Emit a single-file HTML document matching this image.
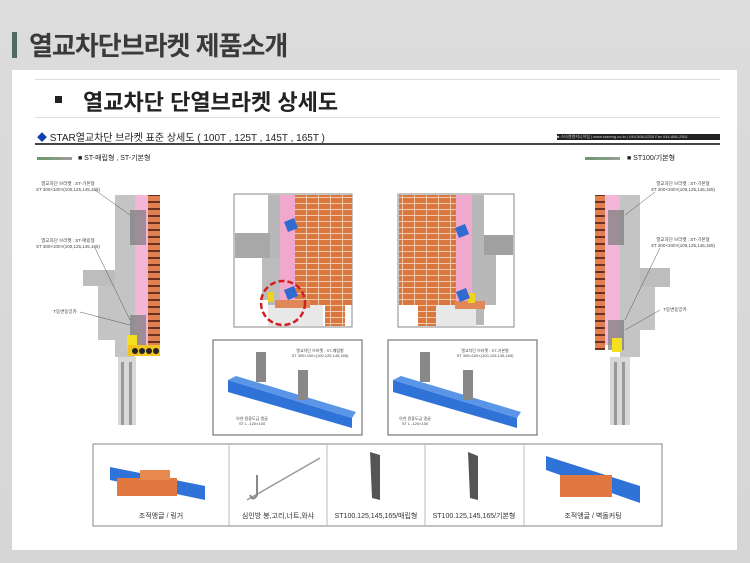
<!DOCTYPE html>
<html><head><meta charset="utf-8"><style>
html,body{margin:0;padding:0}
body{width:750px;height:563px;position:relative;overflow:hidden;background:linear-gradient(#dcdcdc,#d6d6d6);font-family:"Liberation Sans","Noto Sans CJK KR",sans-serif}
.abs{position:absolute}
</style></head><body>
<div class="abs" style="left:12px;top:32px;width:5px;height:26px;background:#4f6b63"></div>
<div class="abs" style="left:29px;top:26px;font-size:26px;font-weight:bold;color:#3a3a3a;letter-spacing:-1px;white-space:nowrap">열교차단브라켓 제품소개</div>
<div class="abs" style="left:12px;top:70px;width:725px;height:480px;background:#fff"></div>
<div class="abs" style="left:35px;top:79px;width:685px;height:1px;background:#ddd"></div>
<div class="abs" style="left:35px;top:117px;width:685px;height:1px;background:#ddd"></div>
<div class="abs" style="left:55px;top:96px;width:7px;height:7px;background:#222"></div>
<div class="abs" style="left:83px;top:85px;font-size:22px;font-weight:bold;color:#222;white-space:nowrap">열교차단 단열브라켓 상세도</div>
<div class="abs" style="left:37px;top:129px;font-size:10px;color:#222;white-space:nowrap"><span style="color:#1040b0">◆</span> STAR열교차단 브라켓 표준 상세도 ( 100T , 125T , 145T , 165T )</div>
<div class="abs" style="left:35px;top:143px;width:685px;height:2px;background:#444"></div>
<div class="abs" style="left:557px;top:134px;width:163px;height:6px;background:#222;color:#ccc;font-size:4px;line-height:6px;white-space:nowrap;overflow:hidden">■ 스타앤엔지니어링 | www.stareng.co.kr | 044-566-0205 Fax 044-866-2551</div>
<div class="abs" style="left:37px;top:157px;width:35px;height:3px;background:linear-gradient(90deg,#6a9a6a,#9c9c9c)"></div>
<div class="abs" style="left:78px;top:153px;font-size:7px;color:#222;white-space:nowrap">■ ST-매립형 , ST-기본형</div>
<div class="abs" style="left:585px;top:157px;width:35px;height:3px;background:linear-gradient(90deg,#6a9a6a,#9c9c9c)"></div>
<div class="abs" style="left:627px;top:153px;font-size:7px;color:#222;white-space:nowrap">■ ST100/기본형</div>

<svg class="abs" style="left:0;top:0" width="750" height="563" font-family="Liberation Sans, Noto Sans CJK KR, sans-serif">
<defs>
<pattern id="br" width="12" height="6" patternUnits="userSpaceOnUse"><rect width="12" height="6" fill="#d9773f"/><rect y="5" width="12" height="1" fill="#f0c8a8"/><rect x="6" width="1" height="6" fill="#f0c8a8"/></pattern>
<pattern id="bv" width="12" height="7" patternUnits="userSpaceOnUse"><rect width="12" height="7" fill="#e08050"/><rect y="5" width="12" height="2" fill="#6a3020"/></pattern>
</defs>
<g>
<rect x="115" y="195" width="20" height="162" fill="#c4c4c4"/>
<rect x="83" y="270" width="32" height="16" fill="#bdbdbd"/>
<rect x="98" y="286" width="17" height="54" fill="#c4c4c4"/>
<rect x="135" y="195" width="13" height="150" fill="#f2b6d6"/>
<rect x="148" y="195" width="12" height="153" fill="url(#bv)"/>
<rect x="130" y="210" width="16" height="35" fill="#7a7a7a" opacity=".7"/>
<rect x="130" y="315" width="16" height="35" fill="#7a7a7a" opacity=".7"/>
<rect x="127" y="335" width="10" height="15" fill="#f5e020"/>
<rect x="128" y="345" width="32" height="11" fill="#f2c420"/>
<circle cx="135" cy="351" r="3" fill="#222"/><circle cx="142" cy="351" r="3" fill="#222"/><circle cx="149" cy="351" r="3" fill="#222"/><circle cx="156" cy="351" r="3" fill="#222"/>
<rect x="118" y="357" width="18" height="68" fill="#d8d8d8"/>
<rect x="121" y="362" width="3" height="63" fill="#999"/><rect x="129" y="362" width="3" height="63" fill="#999"/>
<g font-size="4.5" fill="#444" text-anchor="middle"><text x="68" y="185">열교차단 브라켓 : ST-기본형</text><text x="68" y="191">ST 300×100×(100,125,145,165)</text>
<text x="68" y="242">열교차단 브라켓 : ST-매립형</text><text x="68" y="248">ST 300×100×(100,125,145,165)</text>
<text x="65" y="313">T동변동앙카</text></g>
<g stroke="#555" stroke-width=".5" fill="none"><path d="M95 190 L130 215"/><path d="M95 248 L130 320"/><path d="M80 312 L130 325"/></g>
</g>
<g>
<rect x="620" y="195" width="20" height="162" fill="#c4c4c4"/>
<rect x="640" y="268" width="30" height="19" fill="#bdbdbd"/>
<rect x="640" y="287" width="15" height="43" fill="#c4c4c4"/>
<rect x="605" y="195" width="15" height="150" fill="#f2b6d6"/>
<rect x="595" y="195" width="10" height="155" fill="url(#bv)"/>
<rect x="608" y="210" width="16" height="35" fill="#7a7a7a" opacity=".7"/>
<rect x="608" y="320" width="16" height="30" fill="#7a7a7a" opacity=".7"/>
<rect x="612" y="338" width="10" height="14" fill="#f5e020"/>
<rect x="610" y="357" width="20" height="68" fill="#d8d8d8"/>
<rect x="614" y="362" width="3" height="63" fill="#999"/><rect x="622" y="362" width="3" height="63" fill="#999"/>
<g font-size="4.5" fill="#444" text-anchor="middle"><text x="683" y="185">열교차단 브라켓 : ST-기본형</text><text x="683" y="191">ST 300×100×(100,125,145,165)</text>
<text x="683" y="241">열교차단 브라켓 : ST-기본형</text><text x="683" y="247">ST 300×100×(100,125,145,165)</text>
<text x="675" y="311">T동변동앙카</text></g>
<g stroke="#555" stroke-width=".5" fill="none"><path d="M655 192 L625 215"/><path d="M660 248 L625 320"/><path d="M660 310 L625 330"/></g>
</g>
<g>
<rect x="234" y="194" width="118" height="133" fill="#fff" stroke="#888"/>
<rect x="268" y="195" width="12" height="130" fill="#b8b8b8"/>
<rect x="235" y="233" width="35" height="25" fill="#a8a8a8"/>
<rect x="262" y="258" width="18" height="42" fill="#bcbcbc"/>
<rect x="280" y="195" width="15" height="110" fill="#f0a8cc"/>
<rect x="295" y="195" width="57" height="110" fill="url(#br)"/>
<rect x="325" y="305" width="20" height="21" fill="url(#br)"/>
<rect x="268" y="305" width="55" height="21" fill="#e8e8e8"/>
<rect x="275" y="300" width="35" height="8" fill="#e08858"/>
<rect x="268" y="292" width="6" height="10" fill="#f0d020"/>
<path d="M284 222l10-4 4 10-10 4z" fill="#2f6bd0"/>
<path d="M284 290l10-4 4 10-10 4z" fill="#2f6bd0"/>
<circle cx="283" cy="303" r="22" fill="none" stroke="#d02020" stroke-width="2.5" stroke-dasharray="6 3"/>
</g>
<g>
<rect x="398" y="194" width="116" height="133" fill="#fff" stroke="#888"/>
<rect x="399" y="195" width="57" height="110" fill="url(#br)"/>
<rect x="418" y="305" width="18" height="21" fill="url(#br)"/>
<rect x="456" y="195" width="16" height="110" fill="#f0a8cc"/>
<rect x="472" y="195" width="12" height="130" fill="#b8b8b8"/>
<rect x="484" y="235" width="29" height="20" fill="#a0a0a0"/>
<rect x="484" y="255" width="12" height="50" fill="#b8b8b8"/>
<rect x="436" y="305" width="40" height="21" fill="#e8e8e8"/>
<rect x="455" y="301" width="30" height="8" fill="#e08858"/>
<rect x="468" y="293" width="7" height="10" fill="#f0d020"/>
<path d="M455 228l10-4 4 10-10 4z" fill="#2f6bd0"/>
<path d="M456 292l10-4 4 10-10 4z" fill="#2f6bd0"/>
</g>
<g>
<rect x="213" y="340" width="149" height="95" fill="#fff" stroke="#777" stroke-width="1.2"/>
<path d="M228 380 L352 418 L352 428 L228 392 Z" fill="#2f73d8"/>
<path d="M228 380 L236 376 L356 412 L352 418 Z" fill="#5a95e8"/>
<rect x="256" y="352" width="10" height="30" fill="#888"/>
<rect x="298" y="370" width="10" height="30" fill="#888"/>
<g font-size="4" fill="#444" text-anchor="middle"><text x="320" y="352">열교차단 브라켓 : ST-매립형</text><text x="320" y="357">ST 300×100×(100,125,145,165)</text><text x="252" y="420">아연 용융도금 앵글</text><text x="252" y="425">ST L -120×100</text></g>
</g>
<g transform="translate(175,0)">
<rect x="213" y="340" width="149" height="95" fill="#fff" stroke="#777" stroke-width="1.2"/>
<path d="M218 380 L342 418 L342 428 L218 392 Z" fill="#2f73d8"/>
<path d="M218 380 L226 376 L346 412 L342 418 Z" fill="#5a95e8"/>
<rect x="245" y="352" width="10" height="30" fill="#888"/>
<rect x="288" y="370" width="10" height="30" fill="#888"/>
<g font-size="4" fill="#444" text-anchor="middle"><text x="310" y="352">열교차단 브라켓 : ST-기본형</text><text x="310" y="357">ST 300×100×(100,125,145,165)</text><text x="240" y="420">아연 용융도금 앵글</text><text x="240" y="425">ST L -120×100</text></g>
</g>
<rect x="93" y="444" width="569" height="82" fill="#fff" stroke="#999" stroke-width="1.2"/>
<g stroke="#bbb"><line x1="229" y1="444" x2="229" y2="526"/><line x1="327" y1="444" x2="327" y2="526"/><line x1="425" y1="444" x2="425" y2="526"/><line x1="524" y1="444" x2="524" y2="526"/></g>
<path d="M110 467 L205 486 L205 500 L110 480Z" fill="#2f73d8"/>
<rect x="117" y="478" width="60" height="18" fill="#e07840"/>
<rect x="140" y="470" width="30" height="10" fill="#e88a50"/>
<line x1="247" y1="500" x2="320" y2="458" stroke="#999" stroke-width="1.5"/>
<path d="M257 475 L257 495 Q253 502 250 495" fill="none" stroke="#888" stroke-width="2"/>
<path d="M370 452 L380 455 L380 500 L372 498 Z" fill="#555"/>
<path d="M468 452 L478 456 L478 500 L470 498 Z" fill="#555"/>
<path d="M546 456 L640 486 L640 503 L546 470Z" fill="#2f73d8"/>
<rect x="560" y="475" width="52" height="22" fill="#e07840"/>
<g font-size="7" fill="#333" text-anchor="middle"><text x="161" y="518">조적앵글 / 링거</text><text x="278" y="518">심인방 봉,고리,너트,와샤</text><text x="376" y="518">ST100.125,145,165/매립형</text><text x="474" y="518">ST100.125,145,165/기본형</text><text x="593" y="518">조적앵글 / 벽돌커팅</text></g>
</svg>
</body></html>
